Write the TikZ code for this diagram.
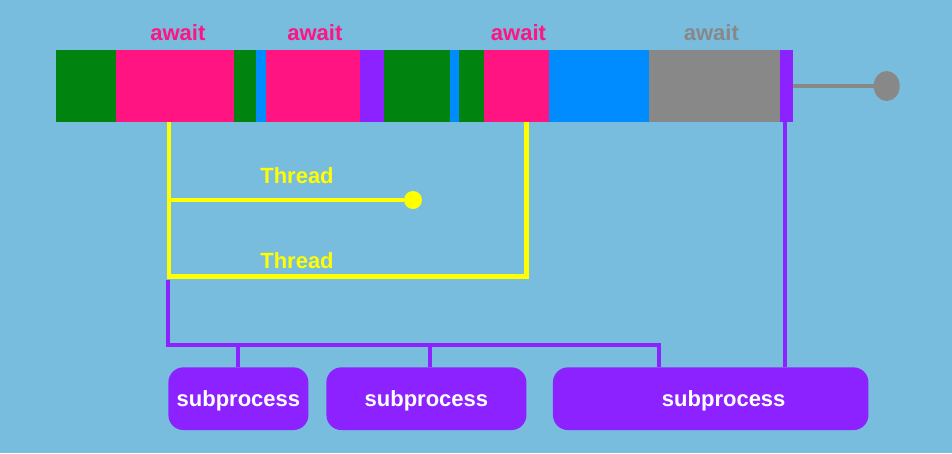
\documentclass[tikz,border=0pt]{standalone}
\usepackage{fontspec}
\setmainfont{Liberation Sans}
\usepackage{xcolor}
\usepackage{tikz}
\usetikzlibrary{positioning, shapes.geometric}

\definecolor{bgblue}{RGB}{120,188,222}
\definecolor{segGreen}{RGB}{0,132,15}
\definecolor{segPink}{RGB}{255,20,129}
\definecolor{segBlue}{RGB}{0,140,255}
\definecolor{segPurple}{RGB}{140,34,255}
\definecolor{segGray}{RGB}{136,136,136}
\definecolor{threadYellow}{RGB}{255,255,0}

\tikzset{
  seg/.style={rectangle, inner sep=0pt, outer sep=0pt, minimum height=72pt},
  lbl/.style={inner sep=0pt, font=\fontsize{22}{26}\selectfont\bfseries},
  subbox/.style={rectangle, rounded corners=15pt, fill=segPurple, text=white,
    minimum height=62.7pt, inner sep=0pt, text depth=0pt, font=\fontsize{22}{26}\selectfont\bfseries},
  threadline/.style={draw=threadYellow, line width=4.5pt},
  procline/.style={draw=segPurple, line width=4pt},
}

\begin{document}
\begin{tikzpicture}[x=1pt, y=-1pt]
  \fill[bgblue] (0,0) rectangle (952,453);

  \node (g1) [seg, fill=segGreen, minimum width=60pt, anchor=west] at (56,86) {};
  \node (p1) [seg, fill=segPink, minimum width=117.7pt, right=0pt of g1] {};
  \node (g2) [seg, fill=segGreen, minimum width=22pt, right=0pt of p1] {};
  \node (b1) [seg, fill=segBlue, minimum width=10.3pt, right=0pt of g2] {};
  \node (p2) [seg, fill=segPink, minimum width=93.7pt, right=0pt of b1] {};
  \node (v1) [seg, fill=segPurple, minimum width=24.3pt, right=0pt of p2] {};
  \node (g3) [seg, fill=segGreen, minimum width=65.7pt, right=0pt of v1] {};
  \node (b2) [seg, fill=segBlue, minimum width=9.3pt, right=0pt of g3] {};
  \node (g4) [seg, fill=segGreen, minimum width=24.7pt, right=0pt of b2] {};
  \node (p3) [seg, fill=segPink, minimum width=65.6pt, right=0pt of g4] {};
  \node (b3) [seg, fill=segBlue, minimum width=99.4pt, right=0pt of p3] {};
  \node (gr) [seg, fill=segGray, minimum width=131.3pt, right=0pt of b3] {};
  \node (v2) [seg, fill=segPurple, minimum width=12.7pt, right=0pt of gr] {};

  \node (aw1) [lbl, text=segPink, above=9pt of p1, xshift=3pt] {await};
  \node (aw2) [lbl, text=segPink, above=9pt of p2, xshift=2pt] {await};
  \node (aw3) [lbl, text=segPink, above=9pt of p3, xshift=2pt] {await};
  \node (aw4) [lbl, text=segGray, above=9pt of gr, xshift=-3pt] {await};

  \node (enddot) [ellipse, fill=segGray, minimum width=26pt, minimum height=30pt, inner sep=0pt] at (886.7,86) {};
  \draw[segGray, line width=4pt] (v2.east) -- (enddot);

  \coordinate (ya) at (169,122);
  \coordinate (yb) at (526.7,122);
  \coordinate (yc) at (169,276.7);
  \node (t1dot) [circle, fill=threadYellow, minimum size=18pt, inner sep=0pt] at (413,200) {};
  \node (th1) [lbl, text=threadYellow] at (297,176) {Thread};
  \node (th2) [lbl, text=threadYellow] at (297,261) {Thread};
  \draw[threadline] (ya) -- (yc) -| (yb);
  \draw[threadline] (ya |- t1dot) -- (t1dot);

  \node (sub1) [subbox, minimum width=140pt] at (238.4,398.7) {subprocess};
  \node (sub2) [subbox, minimum width=200pt] at (426.4,398.7) {subprocess};
  \node (sub3) [subbox, minimum width=315.5pt] at (710.7,398.7) {\hspace{26pt}subprocess};

  \coordinate (pa) at (168.4,279.5);
  \coordinate (pb) at (658.7,344.5);
  \draw[procline] (pa) |- (pb) -- (pb |- sub3.north);
  \draw[procline] (sub1.north) -- (sub1.north |- pb);
  \draw[procline] ([xshift=4pt]sub2.north) -- ([xshift=4pt]sub2.north |- pb);
  \draw[procline] ([xshift=-1pt]v2.south) -- ([xshift=-1pt]v2.south |- sub3.north);
\end{tikzpicture}
\end{document}
